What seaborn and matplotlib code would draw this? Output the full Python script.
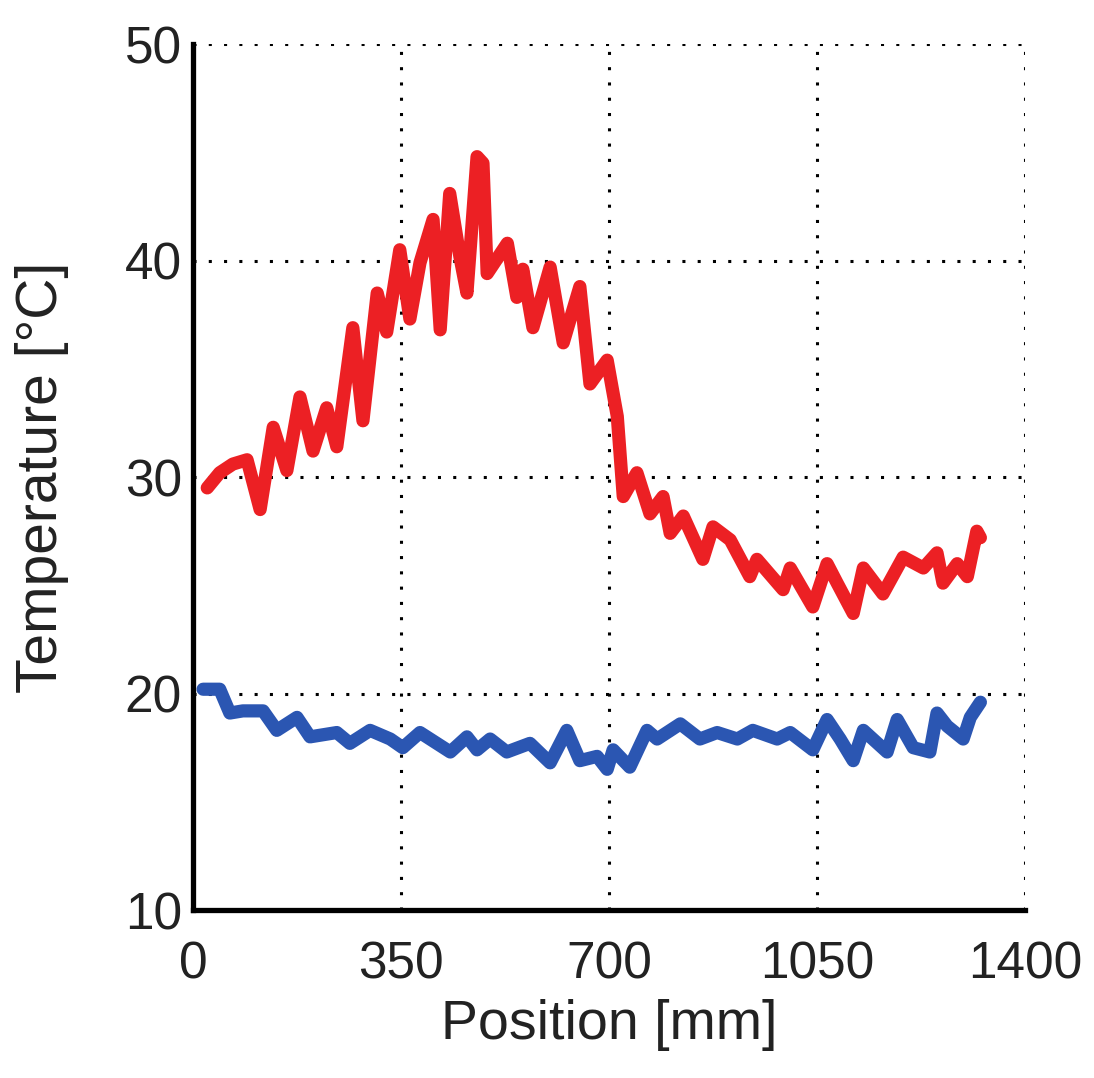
import matplotlib
matplotlib.use('Agg')
import matplotlib.pyplot as plt
import pandas as pd
import seaborn as sns

# Red curve (heated) - position in mm, temperature in degC
red_pos = [24, 45, 67, 91, 113, 135, 158, 180, 202, 225, 242, 269, 286, 310, 326,
           348, 365, 382, 404, 416, 432, 449, 461, 478, 488, 495, 529, 545, 555, 572,
           601, 623, 651, 668, 697, 714, 724, 747, 769, 791, 803, 825, 858, 875, 904,
           937, 949, 993, 1005, 1043, 1067, 1084, 1111, 1128, 1161, 1195, 1229, 1252,
           1262, 1286, 1303, 1319, 1325]
red_temp = [29.5, 30.2, 30.6, 30.8, 28.5, 32.3, 30.3, 33.7, 31.2, 33.2, 31.4, 36.9, 32.6,
            38.5, 36.7, 40.5, 37.3, 39.9, 41.9, 36.8, 43.1, 40.2, 38.5, 44.8, 44.5, 39.4,
            40.8, 38.3, 39.6, 36.9, 39.7, 36.2, 38.8, 34.3, 35.4, 32.8, 29.1, 30.2, 28.3,
            29.1, 27.4, 28.2, 26.2, 27.7, 27.1, 25.4, 26.2, 24.8, 25.8, 24.0, 26.0, 25.1,
            23.7, 25.8, 24.6, 26.3, 25.8, 26.5, 25.1, 26.0, 25.4, 27.5, 27.2]

# Blue curve (reference)
blue_pos = [17, 45, 62, 84, 118, 141, 175, 197, 242, 264, 298, 332, 353, 382, 433,
            461, 478, 500, 528, 567, 601, 629, 651, 680, 697, 707, 735, 764, 781, 820,
            853, 882, 916, 942, 983, 1005, 1043, 1067, 1089, 1111, 1128, 1168, 1185,
            1212, 1240, 1252, 1269, 1296, 1308, 1325]
blue_temp = [20.2, 20.2, 19.1, 19.2, 19.2, 18.3, 18.9, 18.0, 18.2, 17.7, 18.3, 17.9, 17.5,
             18.2, 17.3, 18.0, 17.4, 17.9, 17.3, 17.7, 16.8, 18.3, 16.9, 17.1, 16.5, 17.4,
             16.6, 18.3, 17.9, 18.6, 17.9, 18.2, 17.9, 18.3, 17.9, 18.2, 17.4, 18.8, 17.9,
             16.9, 18.3, 17.3, 18.8, 17.5, 17.3, 19.1, 18.5, 17.9, 18.9, 19.6]

x_ticks = [0, 350, 700, 1050, 1400]
y_ticks = [10, 20, 30, 40, 50]

df_red = pd.DataFrame({'Position': red_pos, 'Temperature': red_temp})
df_blue = pd.DataFrame({'Position': blue_pos, 'Temperature': blue_temp})

sns.set_style('white')
plt.rcParams['font.family'] = ['Liberation Sans', 'DejaVu Sans']

fig = plt.figure(figsize=(10.94, 10.78), dpi=100)
ax = fig.add_axes([0.1764, 0.1558, 0.7605, 0.8033])

sns.lineplot(data=df_red, x='Position', y='Temperature', ax=ax, color='#ec2024',
             linewidth=9.5, sort=False, estimator=None)
sns.lineplot(data=df_blue, x='Position', y='Temperature', ax=ax, color='#2b56b2',
             linewidth=9.5, sort=False, estimator=None)

ax.set_xlim(0, 1400)
ax.set_ylim(10, 50)
ax.set_xticks(x_ticks)
ax.set_yticks(y_ticks)
ax.grid(True, linestyle=(0, (1, 4)), color='black', linewidth=2.2)

for side in ['top', 'right']:
    ax.spines[side].set_visible(False)
for side in ['left', 'bottom']:
    ax.spines[side].set_color('black')
    ax.spines[side].set_linewidth(3.8)

ax.tick_params(direction='in', length=7, width=2, color='black',
               labelsize=37, labelcolor='#222222')
ax.tick_params(axis='x', pad=22)
ax.tick_params(axis='y', pad=8)
ax.set_xlabel('Position [mm]', fontsize=40, color='#222222', labelpad=7)
ax.set_ylabel('Temperature [°C]', fontsize=41, color='#222222', labelpad=40)

fig.savefig('out.png', dpi=100)
